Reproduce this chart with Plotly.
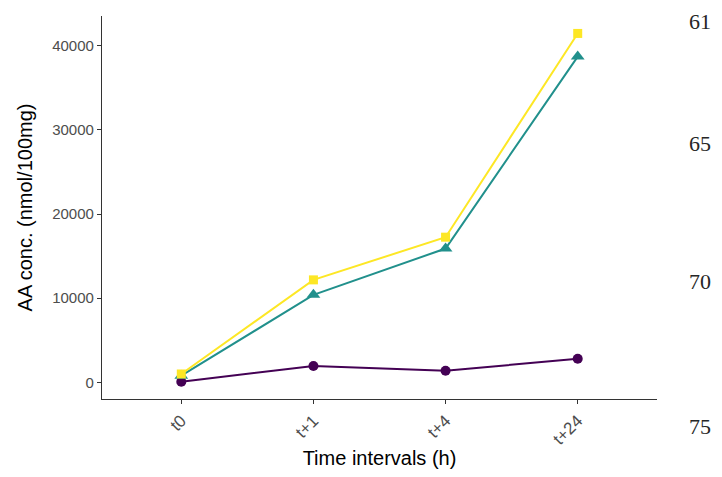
import plotly.graph_objects as go

# Data
categories = ["t0", "t+1", "t+4", "t+24"]
series_purple = [80, 1950, 1390, 2810]
series_teal = [800, 10400, 15900, 38700]
series_yellow = [1000, 12180, 17250, 41450]
y_ticks = [0, 10000, 20000, 30000, 40000]
y_tick_labels = ["0", "10000", "20000", "30000", "40000"]
side_numbers = ["61", "65", "70", "75"]
side_number_pos = [0.9856, 0.667, 0.308, -0.0705]

fig = go.Figure()

traces = [
    (series_purple, "#440154", "circle", 10),
    (series_teal, "#21908C", "triangle-up", 12),
    (series_yellow, "#FDE725", "square", 9),
]
for vals, col, sym, size in traces:
    fig.add_trace(go.Scatter(
        x=categories, y=vals, mode="lines+markers",
        line=dict(color=col, width=2),
        marker=dict(color=col, symbol=sym, size=size),
        showlegend=False,
    ))

for txt, yp in zip(side_numbers, side_number_pos):
    fig.add_annotation(
        text=txt, xref="paper", yref="paper", x=1.1009, y=yp,
        showarrow=False, xanchor="right", yanchor="middle",
        font=dict(family="Liberation Serif, Times New Roman, serif", size=22, color="#262626"),
    )

ytick_font = dict(family="Liberation Sans, Arial, sans-serif", size=15, color="#4d4d4d")
xtick_font = dict(family="Liberation Sans, Arial, sans-serif", size=17, color="#4d4d4d")
title_font = dict(family="Liberation Sans, Arial, sans-serif", size=20, color="#000000")

# page body has an 8px margin, so the figure is sized/offset to compensate
fig.update_layout(
    width=706, height=461,
    margin=dict(l=94, r=57, t=8, b=70, autoexpand=False),
    plot_bgcolor="white", paper_bgcolor="white",
    xaxis=dict(
        type="category", range=[-0.6, 3.6], automargin=False,
        showline=True, linecolor="#333333", linewidth=1.3,
        ticks="outside", ticklen=4, tickcolor="#333333", tickwidth=1,
        tickangle=-45, tickfont=xtick_font, showgrid=False, zeroline=False,
        title=dict(text="Time intervals (h)", font=title_font, standoff=6),
    ),
    yaxis=dict(
        range=[-1970, 43520], tickvals=y_ticks, ticktext=y_tick_labels,
        automargin=False,
        showline=True, linecolor="#333333", linewidth=1.3,
        ticks="outside", ticklen=4, tickcolor="#333333", tickwidth=1,
        tickfont=ytick_font, showgrid=False, zeroline=False,
        title=dict(text="AA conc. (nmol/100mg)", font=title_font, standoff=14),
    ),
)

fig.write_html("out.html")
